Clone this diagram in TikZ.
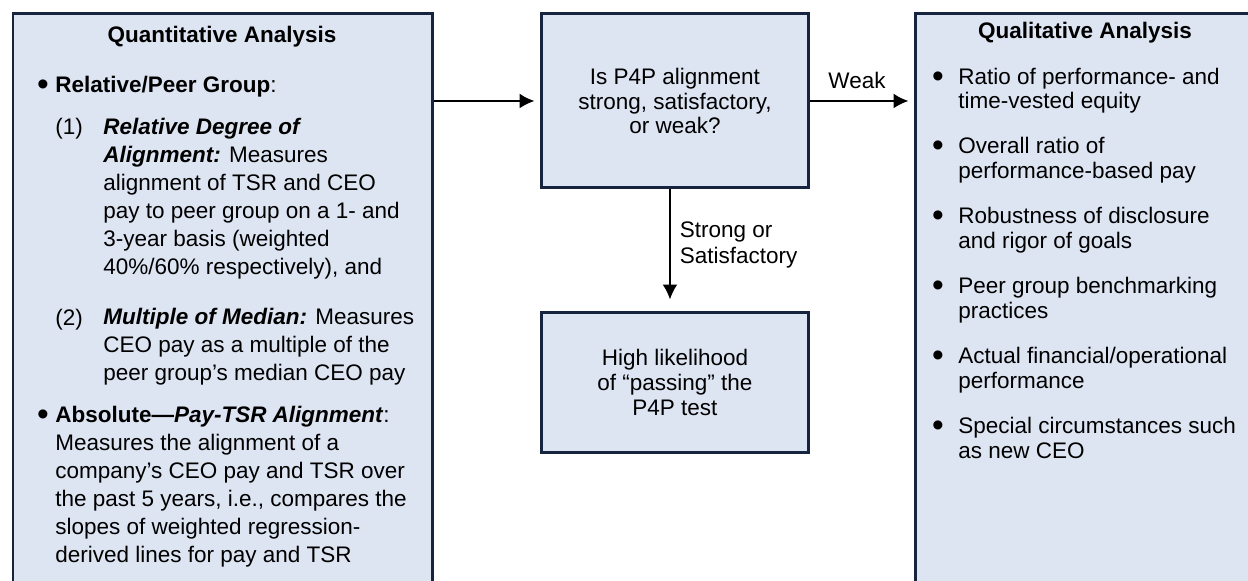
\documentclass[tikz,border=0pt]{standalone}
\usepackage{fontspec}
\setmainfont{Liberation Sans}
\usetikzlibrary{arrows.meta}
\definecolor{boxfill}{RGB}{221,228,242}
\definecolor{boxline}{RGB}{22,36,64}
\tikzset{
  panel/.style={draw=boxline, fill=boxfill, line width=0.06cm, anchor=north west, inner sep=0pt, align=center},
  loose/.style={font=\fontsize{12.8}{15.9}\selectfont, inner sep=0pt, align=left, anchor=base west},
  tight/.style={inner sep=0pt, align=left, anchor=base west},
  dot/.style={font=\fontsize{19}{19}\selectfont, inner sep=0pt, anchor=base, yshift=-0.07cm},
  head/.style={font=\bfseries\fontsize{12.8}{14.2}\selectfont, inner sep=0pt},
  link/.style={line width=0.04cm, -{Latex[length=0.3cm,width=0.3cm]}},
}

\begin{document}
\begin{tikzpicture}[x=0.02cm, y=-0.02cm, font=\fontsize{12.8}{14.2}\selectfont]
\useasboundingbox (0,0) rectangle (1248,581);

\node[panel, minimum width=8.4cm, minimum height=12.6cm] (quant) at (11.5,12.5) {};
\node[panel, minimum width=5.36cm, minimum height=3.48cm] (ask) at (539.5,12.5) {Is P4P alignment\\strong, satisfactory,\\or weak?};
\node[panel, minimum width=5.36cm, minimum height=2.82cm] (high) at (539.5,310.5) {High likelihood\\of “passing” the\\P4P test};
\node[panel, minimum width=6.88cm, minimum height=12.6cm] (qual) at (913.5,12.5) {};

% multi-line texts sit on the baseline of their last line
\node[head] (quanttitle) at (222,37) {Quantitative Analysis};
\node[dot] (peerdot) at (43,92) {•};
\node[loose] (peer) at (55,92) {\textbf{Relative/Peer Group}:};
\node[loose] (num1) at (55,134) {(1)};
\node[loose] (degree) at (103,274) {\textbf{\textit{Relative Degree of}}\\\textbf{\textit{Alignment:}} Measures\\alignment of TSR and CEO\\pay to peer group on a 1- and\\3-year basis (weighted\\40\%/60\% respectively), and};
\node[loose] (num2) at (55,325) {(2)};
\node[loose] (median) at (103,380) {\textbf{\textit{Multiple of Median:}} Measures\\CEO pay as a multiple of the\\peer group’s median CEO pay};
\node[dot] (absdot) at (43,422) {•};
\node[loose] (absolute) at (55,562) {\textbf{Absolute---\textit{Pay-TSR Alignment}}:\\Measures the alignment of a\\company’s CEO pay and TSR over\\the past 5 years, i.e., compares the\\slopes of weighted regression-\\derived lines for pay and TSR};

\node[head] (qualtitle) at (1085,33) {Qualitative Analysis};
\node[dot] (ratiodot) at (938,84) {•};
\node[tight] (ratio) at (958,109) {Ratio of performance- and\\time-vested equity};
\node[dot] (overalldot) at (938,153) {•};
\node[tight] (overall) at (958,178) {Overall ratio of\\performance-based pay};
\node[dot] (robustdot) at (938,223) {•};
\node[tight] (robust) at (958,248) {Robustness of disclosure\\and rigor of goals};
\node[dot] (benchdot) at (938,293) {•};
\node[tight] (bench) at (958,318) {Peer group benchmarking\\practices};
\node[dot] (actualdot) at (938,363) {•};
\node[tight] (actual) at (958,388) {Actual financial/operational\\performance};
\node[dot] (specialdot) at (938,433) {•};
\node[tight] (special) at (958,458) {Special circumstances such\\as new CEO};

\draw[link, shorten >=0.1cm] (quant.east |- ask.west) -- (ask.west);
\draw[link, shorten >=0.1cm] (ask.east) -- (ask.east -| qual.west) node[midway, above=0.22cm, xshift=-0.1cm, inner sep=0pt] {Weak};
\draw[link, shorten >=0.22cm] ([xshift=-0.1cm]ask.south) -- ([xshift=-0.1cm]high.north) node[midway, right=0.18cm, yshift=0.1cm, inner sep=0pt, align=left, font=\fontsize{12.8}{15.2}\selectfont] {Strong or\\Satisfactory};
\end{tikzpicture}
\end{document}
